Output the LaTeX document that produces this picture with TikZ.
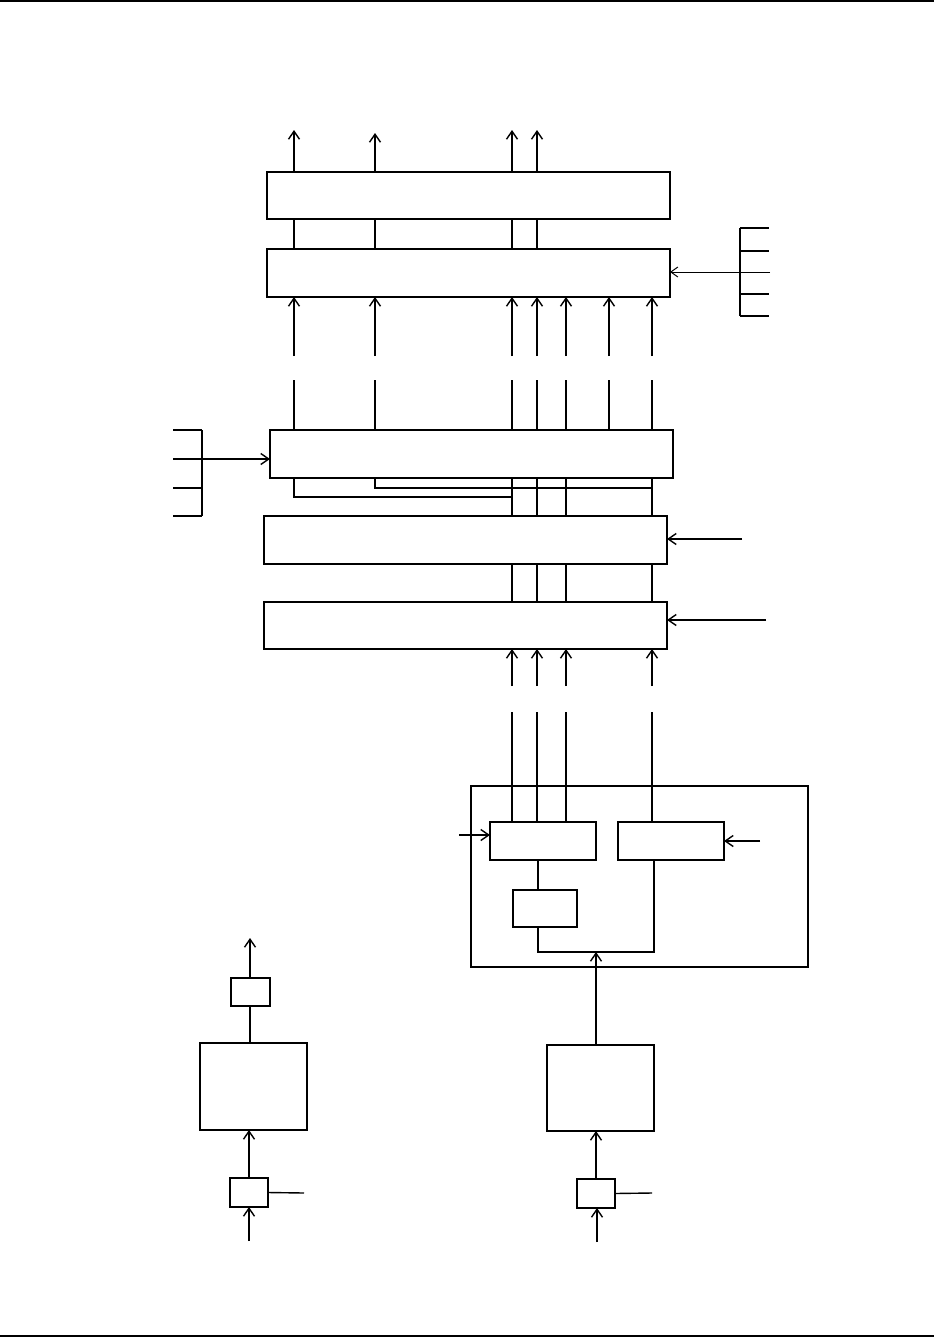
\documentclass[tikz,border=0pt]{standalone}
\usetikzlibrary{arrows.meta}
\begin{document}
\begin{tikzpicture}[x=1pt,y=-1pt,
  box/.style={draw,line width=1.8pt,inner sep=0pt,outer sep=0pt,anchor=north west},
  sig/.style={line width=1.4pt},
  thinsig/.style={line width=1pt},
  arr/.style={-{Straight Barb[length=8pt,width=11pt,line width=1.4pt]}},
  rule/.style={line width=2pt}]
\useasboundingbox (0,0) rectangle (934,1339);
\draw[rule] (0,1) -- (934,1);
\draw[rule] (0,1336) -- (934,1336);
% columns
\coordinate (c1) at (294,0);
\coordinate (c2) at (375,0);
\coordinate (c3) at (512,0);
\coordinate (c4) at (537,0);
\coordinate (c5) at (566,0);
\coordinate (c6) at (609,0);
\coordinate (c7) at (652,0);
\coordinate (c8) at (538,0);
\coordinate (c9) at (654,0);
\coordinate (c10) at (596,0);
% rows
\coordinate (r356) at (0,356);
\coordinate (r380) at (0,380);
\coordinate (r686) at (0,686);
\coordinate (r712) at (0,712);
% boxes
\node[box,minimum width=403pt,minimum height=47pt] (A) at (267,172) {};
\node[box,minimum width=403pt,minimum height=48pt] (B) at (267,249) {};
\node[box,minimum width=403pt,minimum height=48pt] (C) at (270,430) {};
\node[box,minimum width=403pt,minimum height=48pt] (D) at (264,516) {};
\node[box,minimum width=403pt,minimum height=47pt] (E) at (264,602) {};
\node[box,minimum width=337pt,minimum height=181pt] (F) at (471,786) {};
\node[box,minimum width=106pt,minimum height=38pt] (G) at (490,822) {};
\node[box,minimum width=106pt,minimum height=38pt] (H) at (618,822) {};
\node[box,minimum width=64pt,minimum height=37pt] (I) at (513,890) {};
\node[box,minimum width=107pt,minimum height=86pt] (K) at (547,1045) {};
\node[box,minimum width=38pt,minimum height=29pt] (L) at (577,1179) {};
\node[box,minimum width=39pt,minimum height=28pt] (M) at (231,978) {};
\node[box,minimum width=107pt,minimum height=87pt] (N) at (200,1043) {};
\node[box,minimum width=38pt,minimum height=29pt] (O) at (230,1178) {};
% outputs above A
\coordinate (o1) at (294,130);
\coordinate (o2) at (375,133);
\coordinate (o3) at (512,130);
\coordinate (o4) at (537,130);
\foreach \c/\o in {c1/o1,c2/o2,c3/o3,c4/o4}{
  \draw[sig,arr] (A.north -| \c) -- (\o);
  \draw[sig] (B.north -| \c) -- (A.south -| \c);
}
% inputs into B, and into C from above
\foreach \c in {c1,c2,c3,c4,c5,c6,c7}{
  \draw[sig,arr] (r356 -| \c) -- (B.south -| \c);
  \draw[sig] (r380 -| \c) -- (C.north -| \c);
}
% right comb of B
\coordinate (bk1) at (740,228);
\coordinate (bk5) at (740,316);
\coordinate (bin) at (770,272);
\draw[sig] (bk1) -- (bk5);
\foreach \y in {228,251,294,316}{ \draw[sig] (740,\y) -- (769,\y); }
\draw[thinsig,-{Straight Barb[length=7pt,width=10pt,line width=1pt]}] (bin) -- (B.east |- bin);
% left comb of C
\coordinate (ck1) at (202,430);
\coordinate (ck4) at (202,516);
\coordinate (cin) at (173,459);
\draw[sig] (ck1) -- (ck4);
\foreach \y in {430,488,516}{ \draw[sig] (173,\y) -- (202,\y); }
\draw[sig,arr] (cin) -- (C.west |- cin);
% below C
\coordinate (j1) at (512,497);
\coordinate (j2) at (652,488);
\draw[sig] (C.south -| c1) |- (j1);
\draw[sig] (C.south -| c2) |- (j2);
\foreach \c in {c3,c4,c5,c7}{
  \draw[sig] (C.south -| \c) -- (D.north -| \c);
  \draw[sig] (D.south -| \c) -- (E.north -| \c);
  \draw[sig,arr] (r686 -| \c) -- (E.south -| \c);
}
% side inputs of D and E
\coordinate (din) at (742,539);
\coordinate (ein) at (766,620);
\draw[sig,arr] (din) -- (D.east |- din);
\draw[sig,arr] (ein) -- (E.east |- ein);
% into the unit F
\foreach \c in {c3,c4,c5}{ \draw[sig] (r712 -| \c) -- (G.north -| \c); }
\draw[sig] (r712 -| c7) -- (H.north -| c7);
\coordinate (gin) at (459,835);
\coordinate (hin) at (760,841);
\draw[sig,arr] (gin) -- (G.west |- gin);
\draw[sig,arr] (hin) -- (H.east |- hin);
\draw[sig] (G.south -| c8) -- (I.north -| c8);
\coordinate (fj) at (596,952);
\draw[sig] (I.south -| c8) |- (fj) -| (H.south -| c9);
\draw[sig,arr] (K.north -| c10) -- (fj);
% right chain
\coordinate (lin) at (597,1242);
\coordinate (lout) at (652,1193);
\draw[sig,arr] (L.north) -- (K.south -| L.north);
\draw[sig] (L.east) -- (lout);
\draw[sig,arr] (lin) -- (L.south -| lin);
% left chain
\coordinate (mout) at (250,938);
\coordinate (oin) at (249,1241);
\coordinate (oout) at (304,1193);
\draw[sig,arr] (M.north -| mout) -- (mout);
\draw[sig] (M.south -| mout) -- (N.north -| mout);
\draw[sig,arr] (O.north) -- (N.south -| O.north);
\draw[sig] (O.east) -- (oout);
\draw[sig,arr] (oin) -- (O.south -| oin);
\end{tikzpicture}
\end{document}
